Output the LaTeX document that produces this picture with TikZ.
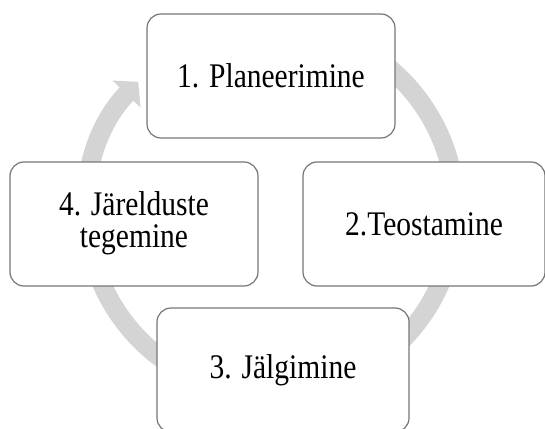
\documentclass[tikz,border=0pt]{standalone}
\usepackage{fontspec}
\setmainfont{Liberation Serif}
\usepackage{graphicx}
\usetikzlibrary{arrows.meta}

\definecolor{ringgray}{RGB}{212,212,212}
\definecolor{boxgray}{RGB}{118,118,118}
\newcommand{\stretchtext}[1]{\scalebox{1}[1.17]{#1}}

\tikzset{
	stagebox/.style={draw=boxgray, line width=1.2pt, fill=white, rounded corners=14pt,
		minimum width=248pt, minimum height=124pt, inner sep=0pt,
		font=\fontsize{29.5}{24.5}\selectfont},
	cyclering/.style={draw=ringgray, line width=19pt, -{Triangle[width=38pt,length=17pt]}}
}

\begin{document}
\begin{tikzpicture}[x=1pt,y=1pt]
			\clip (0,0) rectangle (545,428);
			\coordinate (M) at (271,218);
			\draw[cyclering] (M) ++(120:184.5) arc[start angle=120, end angle=-224, radius=184.5];
			\node[stagebox] (plan) at (271,352) {\stretchtext{1. Planeerimine}};
			\node[stagebox, minimum width=242pt] (teos) at (424,204) {\stretchtext{2.Teostamine}};
			\node[stagebox, minimum width=252pt] (jalg) at (283,58) {\stretchtext{3. Jälgimine}};
			\node[stagebox] (jarel) at (134,204) {\stretchtext{\begin{tabular}{@{}c@{}}4. Järelduste\\tegemine\end{tabular}}};
		\end{tikzpicture}
\end{document}
